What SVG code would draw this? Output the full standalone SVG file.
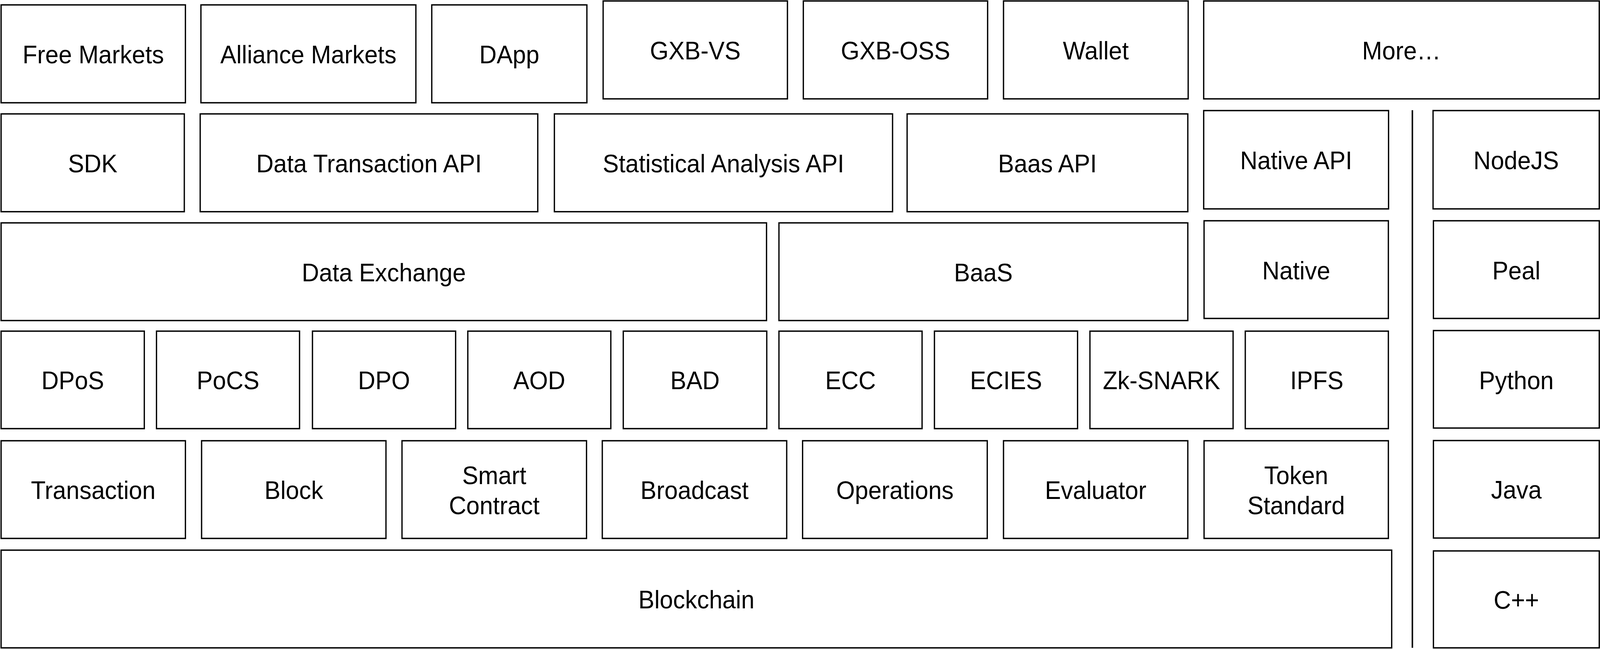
<svg xmlns="http://www.w3.org/2000/svg" width="4332" height="1661" viewBox="0 0 4332 1661" preserveAspectRatio="none">
<style>
svg{width:100vw;height:100vh}
.b{fill:#fff;stroke:#000;stroke-width:3.5}
.t{font-family:"Liberation Sans",Arial,Helvetica,sans-serif;font-size:65px;fill:#000;text-anchor:middle}
.d{stroke:#000;stroke-width:4;fill:none}
</style>
<rect x="0" y="0" width="4332" height="1661" fill="#fff"/>
<g id="free-markets"><rect class="b" x="3" y="12.5" width="499" height="250.5"/><text class="t" x="252.5" y="162">Free Markets</text></g>
<g id="alliance-markets"><rect class="b" x="544" y="12.5" width="582" height="250.5"/><text class="t" x="835" y="162">Alliance Markets</text></g>
<g id="dapp"><rect class="b" x="1169" y="12.5" width="420" height="250.5"/><text class="t" x="1379" y="162">DApp</text></g>
<g id="gxb-vs"><rect class="b" x="1633" y="2.5" width="499" height="250.5"/><text class="t" x="1882.5" y="152">GXB-VS</text></g>
<g id="gxb-oss"><rect class="b" x="2175" y="2.5" width="499" height="250.5"/><text class="t" x="2424.5" y="152">GXB-OSS</text></g>
<g id="wallet"><rect class="b" x="2717" y="2.5" width="500" height="250.5"/><text class="t" x="2967" y="152">Wallet</text></g>
<g id="more"><rect class="b" x="3259" y="2.5" width="1071" height="250.5"/><text class="t" x="3794.5" y="152">More…</text></g>

<g id="sdk"><rect class="b" x="3" y="291.5" width="496" height="250.3"/><text class="t" x="251" y="441">SDK</text></g>
<g id="data-transaction-api"><rect class="b" x="542" y="291.5" width="914" height="250.3"/><text class="t" x="999" y="441">Data Transaction API</text></g>
<g id="statistical-analysis-api"><rect class="b" x="1501" y="291.5" width="915.6" height="250.3"/><text class="t" x="1958.8" y="441">Statistical Analysis API</text></g>
<g id="baas-api"><rect class="b" x="2456" y="291.5" width="760" height="250.3"/><text class="t" x="2836" y="441">Baas API</text></g>
<g id="native-api"><rect class="b" x="3259" y="283" width="500.5" height="251.6"/><text class="t" x="3509.3" y="433">Native API</text></g>
<g id="nodejs"><rect class="b" x="3880" y="283" width="450" height="251.6"/><text class="t" x="4105" y="433">NodeJS</text></g>

<g id="data-exchange"><rect class="b" x="3" y="570.4" width="2072.4" height="250"/><text class="t" x="1039.2" y="720">Data Exchange</text></g>
<g id="baas"><rect class="b" x="2109" y="570.4" width="1107" height="250"/><text class="t" x="2662.5" y="720">BaaS</text></g>
<g id="native"><rect class="b" x="3260" y="565" width="499" height="250"/><text class="t" x="3509.5" y="715">Native</text></g>
<g id="peal"><rect class="b" x="3881" y="565" width="449" height="250"/><text class="t" x="4105.5" y="715">Peal</text></g>

<g id="dpos"><rect class="b" x="3" y="847.5" width="387.7" height="249.5"/><text class="t" x="196.9" y="996.5">DPoS</text></g>
<g id="pocs"><rect class="b" x="423.7" y="847.5" width="387.3" height="249.5"/><text class="t" x="617.4" y="996.5">PoCS</text></g>
<g id="dpo"><rect class="b" x="846" y="847.5" width="387.6" height="249.5"/><text class="t" x="1039.8" y="996.5">DPO</text></g>
<g id="aod"><rect class="b" x="1266.6" y="847.5" width="387.2" height="249.5"/><text class="t" x="1460.2" y="996.5">AOD</text></g>
<g id="bad"><rect class="b" x="1687.5" y="847.5" width="388.5" height="249.5"/><text class="t" x="1881.8" y="996.5">BAD</text></g>
<g id="ecc"><rect class="b" x="2109" y="847.5" width="387.5" height="249.5"/><text class="t" x="2302.8" y="996.5">ECC</text></g>
<g id="ecies"><rect class="b" x="2530" y="847.5" width="387.5" height="249.5"/><text class="t" x="2723.8" y="996.5">ECIES</text></g>
<g id="zk-snark"><rect class="b" x="2951" y="847.5" width="387.6" height="249.5"/><text class="t" x="3144.8" y="996.5">Zk-SNARK</text></g>
<g id="ipfs"><rect class="b" x="3371.6" y="847.5" width="387.4" height="249.5"/><text class="t" x="3565.3" y="996.5">IPFS</text></g>
<g id="python"><rect class="b" x="3881" y="846" width="449" height="249.5"/><text class="t" x="4105.5" y="996">Python</text></g>

<g id="transaction"><rect class="b" x="3" y="1128" width="499" height="250"/><text class="t" x="252.5" y="1277.5">Transaction</text></g>
<g id="block"><rect class="b" x="545.8" y="1128" width="499.2" height="250"/><text class="t" x="795.4" y="1277.5">Block</text></g>
<g id="smart-contract"><rect class="b" x="1088.4" y="1128" width="499.6" height="250"/><text class="t" x="1338.2" y="1239">Smart</text><text class="t" x="1338.2" y="1316.5">Contract</text></g>
<g id="broadcast"><rect class="b" x="1630.7" y="1128" width="499.3" height="250"/><text class="t" x="1880.4" y="1277.5">Broadcast</text></g>
<g id="operations"><rect class="b" x="2173" y="1128" width="500" height="250"/><text class="t" x="2423" y="1277.5">Operations</text></g>
<g id="evaluator"><rect class="b" x="2717" y="1128" width="499" height="250"/><text class="t" x="2966.5" y="1277.5">Evaluator</text></g>
<g id="token-standard"><rect class="b" x="3260" y="1128" width="499" height="250"/><text class="t" x="3509.5" y="1239">Token</text><text class="t" x="3509.5" y="1316.5">Standard</text></g>
<g id="java"><rect class="b" x="3881" y="1127.5" width="449" height="249.5"/><text class="t" x="4105.5" y="1276.5">Java</text></g>

<g id="blockchain"><rect class="b" x="3" y="1408" width="3765" height="250"/><text class="t" x="1885.5" y="1557">Blockchain</text></g>
<g id="cpp"><rect class="b" x="3881" y="1410" width="449" height="248"/><text class="t" x="4105.5" y="1558">C++</text></g>

<g id="connectors"><line class="d" x1="3824" y1="282" x2="3824" y2="1658"/></g>
</svg>
